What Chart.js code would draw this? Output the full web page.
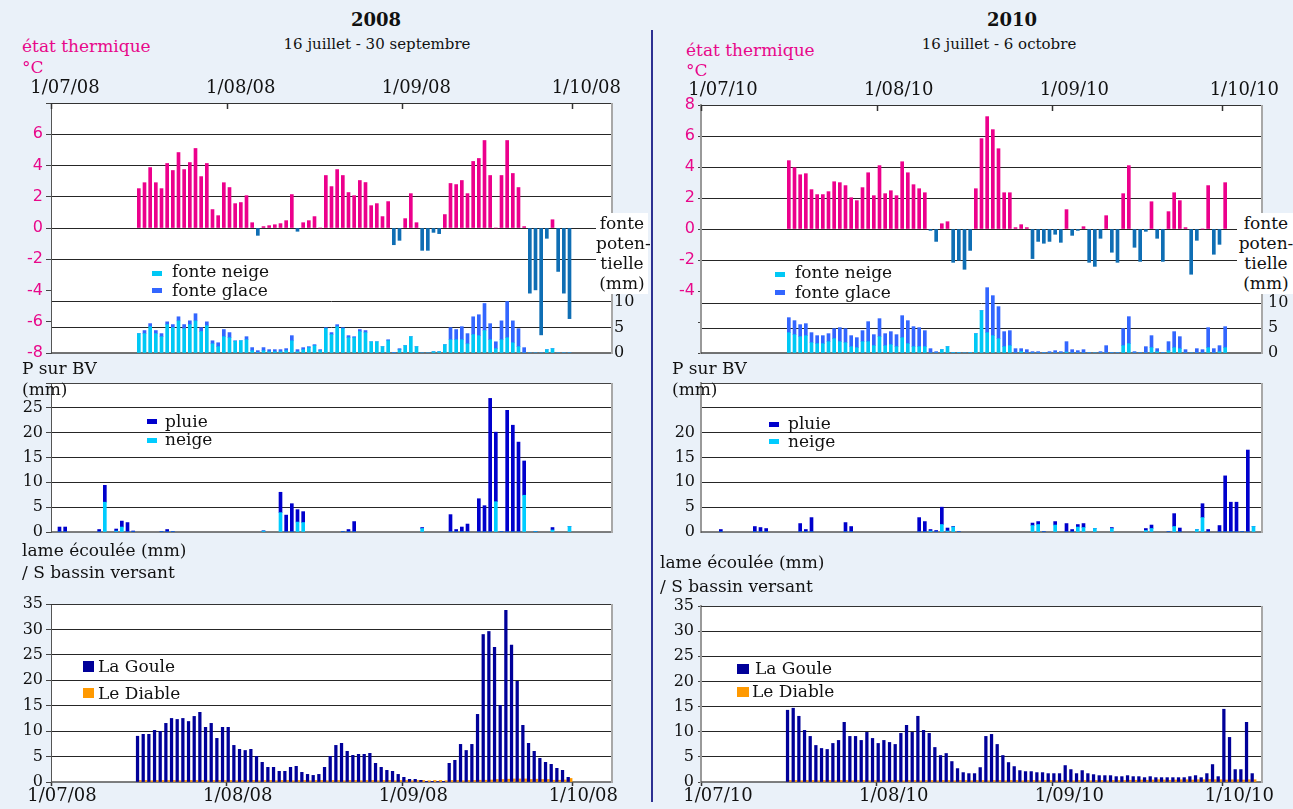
<!DOCTYPE html>
<html lang="fr"><head><meta charset="utf-8"><title>état thermique, précipitations et lame écoulée</title>
<script src="https://cdn.jsdelivr.net/npm/chart.js@4.4.1/dist/chart.umd.min.js"></script>
<style>
html,body{margin:0;padding:0}
body{width:1293px;height:809px;background:#EAF1F9;position:relative;overflow:hidden;font-family:'DejaVu Serif',serif;color:#111}
canvas{position:absolute}
.t{position:absolute;white-space:nowrap;line-height:1;transform:translateY(-50%);font-size:17px}
.tc{transform:translate(-50%,-50%)}
.pk{color:#E8088A}
.m{position:absolute}
.fbox{position:absolute;background:#fff;font-size:17px;line-height:20px;text-align:center;white-space:nowrap}
.div{position:absolute;left:651px;top:30px;width:2px;height:772px;background:#2E3192}
</style></head><body>
<canvas id="t08" width="652" height="316" style="left:0;top:60px"></canvas>
<canvas id="t10" width="641" height="316" style="left:652px;top:60px"></canvas>
<canvas id="p08" width="652" height="192" style="left:0;top:360px"></canvas>
<canvas id="p10" width="641" height="192" style="left:652px;top:360px"></canvas>
<canvas id="r08" width="652" height="224" style="left:0;top:585px"></canvas>
<canvas id="r10" width="641" height="224" style="left:652px;top:585px"></canvas>
<div class="div"></div>

<div class="t tc" style="left:376px;top:20px;font-weight:bold;font-size:18px">2008</div>
<div class="t tc" style="left:377px;top:44px;font-size:15px">16 juillet - 30 septembre</div>
<div class="t pk" style="left:22px;top:46px">état thermique</div>
<div class="t pk" style="left:22px;top:67px">°C</div>
<div class="t tc" style="left:1012px;top:20px;font-weight:bold;font-size:18px">2010</div>
<div class="t tc" style="left:999px;top:44px;font-size:15px">16 juillet - 6 octobre</div>
<div class="t pk" style="left:686px;top:50px">état thermique</div>
<div class="t pk" style="left:686px;top:70px">°C</div>

<div class="fbox" style="left:596px;top:213px;width:52px;height:81px">fonte<br>poten-<br>tielle<br>(mm)</div>
<div class="fbox" style="left:1237px;top:213px;width:58px;height:81px">fonte<br>poten-<br>tielle<br>(mm)</div>

<div class="t" style="left:22px;top:368px">P sur BV</div>
<div class="t" style="left:22px;top:389px">(mm)</div>
<div class="t" style="left:672px;top:368px">P sur BV</div>
<div class="t" style="left:672px;top:389px">(mm)</div>

<div class="t" style="left:22px;top:550px">lame écoulée (mm)</div>
<div class="t" style="left:22px;top:572px">/ S bassin versant</div>
<div class="t" style="left:660px;top:562px">lame écoulée (mm)</div>
<div class="t" style="left:660px;top:586px">/ S bassin versant</div>

<div id="legends"></div>

<script>
// ---- axis (days counted from 1 July) ----
const DAY_TICKS = [0, 31, 62, 92];
const AXIS_DAYS = 99;
const dateLabels2008 = ['1/07/08', '1/08/08', '1/09/08', '1/10/08'];
const dateLabels2010 = ['1/07/10', '1/08/10', '1/09/10', '1/10/10'];
const fonteTicks = [0, 5, 10];

// ---- 2008 (daily series from 16 July = day 15) ----
const start2008 = 15;
const temp2008 = [2.52,2.9,3.87,2.9,2.52,4.13,3.68,4.83,3.74,4.19,5.09,3.29,4.13,1.18,0.79,2.9,2.59,1.56,1.63,2.07,
  0.34,-0.47,0.09,0.15,0.21,0.28,0.47,2.14,-0.21,0.34,0.47,0.73,0,3.36,2.65,3.74,3.36,2.27,2.07,3.04,
  2.91,1.43,1.56,0.73,1.69,-1.07,-0.79,0.6,2.2,0.34,-1.43,-1.43,-0.28,-0.36,0.86,2.85,2.78,3.04,2.2,4.26,
  4.45,5.6,3.36,0,3.36,5.6,3.49,2.59,0.09,-4.17,-3.96,-6.84,-0.66,0.53,-2.78,-4.17,-5.8];
const fonteNeige2008 = [3.8,3.8,5.16,3.8,3.2,5.56,4.97,6.3,4.77,5.56,6.3,4.2,5.36,1.8,1.24,3.2,3.0,2.3,2.4,2.6,
  0.46,0.1,0.46,0.26,0.26,0.26,0.46,2.4,0.26,0.65,1.05,1.44,0.46,4.77,3.6,5.16,4.77,3.0,3.0,4.2,
  4.0,2.2,2.2,1.24,2.4,0,0.65,1.44,3.2,1.24,0,0,0.26,0.26,1.63,2.6,2.6,2.6,1.8,3.6,
  3.4,4.4,2.6,0.85,2.6,3.0,2.0,1.24,0,0,0,0,0.65,0.85,0,0,0];
const fonteGlace2008 = [0,0.6,0.6,0.6,0.6,0.55,0.6,0.8,0.8,0.75,1.4,0.77,0.75,0.6,0.77,1.4,1.0,0.1,0,0.6,
  0.6,0.36,0.6,0.4,0.4,0.4,0.4,1.0,0.4,0.4,0.2,0.2,0.2,0.2,0.4,0.4,0.2,0.4,0.2,0.4,
  0.4,0,0,0,0.2,0.13,0.2,0,0,0,0,0,0,0,0,2.37,2.0,2.56,2.0,3.5,
  4.1,5.3,3.15,1.35,3.7,7.1,4.3,3.53,1.05,0,0,0,0,0,0,0,0];
const precipDays2008 = [1,2,8,9,11,12,13,14,19,20,21,37,40,41,42,43,44,51,52,53,65,70,71,72,73,75,76,77,78,79,80,81,82,83,85,88,91];
const pluie2008 = [1.0,1.0,0.5,3.4,0.4,1.2,1.9,0.2,0.1,0.5,0.1,0.05,4.1,3.4,5.7,2.5,2.2,0.1,0.5,2.1,0.2,3.5,0.5,1.0,1.6,6.7,5.3,26.9,14.0,0.1,24.5,21.5,18.1,6.9,0,0.5,0];
const neige2008 = [0,0,0,6.0,0.2,1.0,0,0,0,0,0,0.2,3.9,0,0,2.0,1.9,0,0,0,0.7,0,0,0,0,0,0,0,6.1,0,0,0,0,7.4,0.1,0.4,1.1];
const laGoule2008 = [9.0,9.37,9.37,10.16,9.96,11.53,12.5,12.3,12.5,11.9,12.9,13.7,10.75,11.53,8.58,10.75,10.75,7.2,6.42,6.2,
  6.42,5.05,3.87,2.88,2.88,2.1,2.1,2.88,3.08,1.9,1.5,1.3,1.5,2.88,5.05,7.2,7.6,6.03,5.24,5.44,
  5.44,5.64,3.67,2.88,2.29,2.1,1.5,0.92,0.52,0.52,0.33,0.13,0.13,0.1,0.05,3.67,4.26,7.4,6.2,7.4,
  13.3,29.0,29.6,26.5,15.07,33.75,26.9,19.8,11.14,7.6,6.03,4.65,3.87,3.47,2.69,2.29,0.92];
const leDiable2008 = [0.3,0.3,0.25,0.3,0.3,0.3,0.3,0.25,0.3,0.3,0.3,0.3,0.25,0.3,0.3,0.3,0.3,0.25,0.3,0.3,
  0.3,0.25,0.3,0.3,0.25,0.3,0.3,0.25,0.3,0.3,0.25,0.3,0.3,0.25,0.3,0.3,0.25,0.3,0.3,0.25,
  0.3,0.3,0.25,0.3,0.3,0.25,0.3,0.3,0.25,0.3,0.3,0.25,0.3,0.3,0.25,0.3,0.3,0.25,0.3,0.3,
  0.35,0.35,0.4,0.5,0.5,0.55,0.6,0.6,0.6,0.5,0.55,0.5,0.5,0.35,0.35,0.4,0.7];

// ---- 2010 (daily series from 16 July = day 15) ----
const start2010 = 15;
const temp2010 = [4.41,3.96,3.5,3.57,2.54,2.22,2.22,2.41,3.05,2.99,2.8,2.02,1.83,2.67,3.63,2.15,4.09,2.28,2.47,2.15,
  4.34,3.63,2.86,2.6,2.34,-0.09,-0.8,0.34,0.47,-2.15,-2.02,-2.6,-1.38,2.6,5.83,7.25,6.41,5.18,2.34,2.34,
  0.09,0.28,0.09,-1.91,-0.8,-0.92,-0.8,-0.34,-0.86,1.25,-0.41,-0.09,0.15,-2.15,-2.41,-0.6,0.86,-1.5,-2.15,2.28,
  4.09,-1.18,-2.09,-0.15,1.76,-0.6,-2.09,1.12,2.34,1.83,0.09,-2.92,-0.73,0,2.8,-1.63,-0.99,2.99];
const fonteNeige2010 = [4.07,3.67,3.27,3.47,2.07,1.87,1.87,2.27,2.87,2.27,2.07,1.27,1.07,2.27,2.27,1.47,3.27,1.47,1.67,1.27,
  3.07,1.87,1.27,1.27,1.27,0,0,0.67,1.27,0.1,0.1,0,0.1,3.87,8.47,4.07,3.47,2.87,1.27,1.47,
  0,0.3,0,0,0,0,0,0,0,0.2,0,0,0,0,0,0,0,0,0,1.47,
  1.87,0,0,0,1.07,0.27,0,0.47,1.07,0.87,0,0,0,0,1.07,0,0.27,1.07];
const fonteGlace2010 = [3.0,2.8,2.4,2.4,2.0,1.6,1.6,1.6,2.0,2.8,2.8,2.2,2.0,2.2,4.0,2.2,3.6,2.4,2.6,2.4,
  4.4,4.6,4.0,3.8,3.2,0.87,0.27,0,0,0,0,0,0,0,0,9.0,8.0,6.4,3.0,3.0,
  0.87,0.57,0.67,0.27,0.27,0.1,0.27,0.47,0.27,2.07,0.67,0.47,0.67,0.1,0,0.27,1.47,0.1,0.1,3.4,
  5.4,0.27,0.1,1.27,2.4,0.6,0.1,1.8,3.2,2.4,0.67,0,0.87,0.67,4.0,0.87,1.2,4.2];
const precipDays2010 = [3,9,10,11,17,18,19,25,26,38,39,40,41,42,43,44,45,58,59,60,62,64,65,66,67,69,72,78,79,82,83,84,87,88,89,91,92,93,94,95,96,97];
const pluie2010 = [0.5,1.1,0.9,0.7,1.7,0.5,2.9,1.9,1.1,2.9,2.1,0.3,0.3,3.5,0.6,0.1,0.1,0.5,0.6,0.1,0.7,1.7,0.5,0.5,0.8,0,0.2,0.4,0.7,0.1,2.6,0.8,0,2.8,0.5,1.3,11.3,6.0,6.0,0.1,16.5,0];
const neige2010 = [0,0,0,0,0,0,0,0,0,0,0,0.2,0,1.5,0.2,1.0,0,1.3,1.5,0,1.4,0,0,1.0,0.9,0.7,0.7,0.3,0.7,0,1.1,0,0.5,2.9,0,0,0,0,0,0,0,1.1];
const laGoule2010 = [14.27,14.67,13.07,10.27,9.07,7.27,6.67,6.47,7.67,8.27,11.87,9.07,9.07,8.27,9.87,8.67,7.67,8.27,7.87,7.47,
  9.67,11.27,9.87,13.07,10.27,9.67,6.87,5.27,5.67,4.07,2.67,1.87,1.67,1.67,2.87,9.07,9.47,7.47,5.27,3.87,
  3.07,2.27,2.07,2.07,1.87,1.87,1.67,1.67,1.67,3.27,2.47,1.67,2.27,1.67,1.47,1.27,1.27,1.27,1.07,1.07,
  1.27,1.07,1.07,0.87,1.07,0.87,0.87,0.87,0.87,0.87,0.87,1.07,1.27,0.87,1.67,3.47,1.07,14.47,8.87,2.47,
  2.47,11.87,1.67];
const leDiable2010 = [0.3,0.3,0.25,0.3,0.3,0.25,0.3,0.3,0.25,0.3,0.3,0.25,0.3,0.3,0.25,0.3,0.3,0.25,0.3,0.3,
  0.25,0.3,0.3,0.25,0.3,0.3,0.25,0.3,0.3,0.25,0.3,0.3,0.25,0.3,0.3,0.25,0.3,0.3,0.25,0.3,
  0.3,0.25,0.3,0.3,0.25,0.3,0.3,0.25,0.3,0.3,0.25,0.3,0.3,0.25,0.3,0.3,0.25,0.3,0.3,0.3,
  0.35,0.35,0.4,0.35,0.4,0.45,0.4,0.35,0.4,0.45,0.45,0.4,0.45,0.45,0.5,0.45,0.45,0.4,0.45,0.45,
  0.4,0.45,0.45];

// ---- styles ----
const POS = '#EC008C', NEG = '#0F6EB4', F_NEIGE = '#00C8F5', F_GLACE = '#3366FF';
const PLUIE = '#0000CC', NEIGE = '#00CCFF', GOULE = '#000099', DIABLE = '#FF9900';
const GRID = '#262626', PINK_TXT = '#E8088A';

function seq(start, vals) { return vals.map((v, i) => ({ x: start + i + 0.5, y: v })); }
function sparse(days, vals) { return vals.map((v, i) => ({ x: days[i] + 0.5, y: v })); }

const frame = {
  id: 'frame',
  beforeDraw(ch) {
    const a = ch.chartArea, c = ch.ctx;
    c.save(); c.fillStyle = '#fff'; c.fillRect(a.left, a.top, a.right - a.left, a.bottom - a.top); c.restore();
  },
  beforeDatasetsDraw(ch, args, o) {
    const a = ch.chartArea, c = ch.ctx;
    c.save();
    c.strokeStyle = o.topColor || '#333'; c.lineWidth = 1.2;
    c.beginPath(); c.moveTo(a.left, a.top + 0.5); c.lineTo(a.right, a.top + 0.5); c.stroke();
    c.strokeStyle = o.bottomColor || '#555'; c.lineWidth = 1.6;
    c.beginPath(); c.moveTo(a.left, a.bottom); c.lineTo(a.right, a.bottom); c.stroke();
    c.strokeStyle = '#A8A8A8'; c.lineWidth = 2;
    c.beginPath(); c.moveTo(a.right, a.top); c.lineTo(a.right, a.bottom + 1); c.stroke();
    if (o.innerTicks) {
      const s = ch.scales.x; c.strokeStyle = '#333'; c.lineWidth = 1.5;
      s.ticks.forEach(t => { const px = Math.round(s.getPixelForValue(t.value)) + 0.5;
        c.beginPath(); c.moveTo(px, a.top); c.lineTo(px, a.top + 6); c.stroke(); });
    }
    c.restore();
  }
};

function xAxis(o) {
  return {
    type: 'linear', position: o.pos, min: 0, max: AXIS_DAYS, offset: false,
    afterBuildTicks: s => { s.ticks = DAY_TICKS.map(v => ({ value: v })); },
    afterFit: s => { s.height = o.height; },
    ticks: { display: o.show, autoSkip: false, maxRotation: 0, minRotation: 0, labelOffset: o.offset || 0,
      padding: o.pad || 0, color: '#111', font: { family: 'DejaVu Serif', size: 18 },
      callback: (v, i) => o.labels[i] },
    grid: { display: o.tick > 0, drawOnChartArea: false, drawTicks: o.tick > 0, tickLength: o.tick || 1,
      tickColor: '#333', color: '#333', tickWidth: 1.5, offset: false },
    border: { display: false }
  };
}

function yAxis(o) {
  const ax = {
    type: 'linear', position: o.pos || 'left', min: o.min, max: o.max, stacked: !!o.stacked,
    afterFit: s => { s.width = o.width; },
    ticks: { stepSize: o.step, color: o.color || '#111', font: o.font || { family: 'DejaVu Serif', size: 16 },
      padding: o.pad, autoSkip: false, callback: v => (o.hide || []).includes(v) ? '' : String(v) },
    grid: { color: c => (c.tick && o.gridOn(c.tick.value)) ? GRID : 'rgba(0,0,0,0)', lineWidth: 1,
      drawTicks: o.tl > 0, tickLength: o.tl || 1, tickColor: '#444' },
    border: { display: o.border !== false, color: o.borderColor || '#555', width: o.borderWidth || 1 }
  };
  if (o.ticks) ax.afterBuildTicks = s => { s.ticks = o.ticks.map(v => ({ value: v })); };
  return ax;
}

const base = { responsive: false, animation: false, devicePixelRatio: 1, events: [] };
const noPlug = { legend: { display: false }, tooltip: { enabled: false } };

function tempChart(id, start, temp, fn, fg, labels, lo, cfg) {
  new Chart(document.getElementById(id), {
    type: 'bar',
    data: { datasets: [
      { label: 'température', data: seq(start, temp), yAxisID: 'y', stack: 't', grouped: false, barThickness: 3,
        backgroundColor: c => (c.raw && c.raw.y < 0) ? NEG : POS },
      { label: 'fonte neige', data: seq(start, fn), yAxisID: 'y2', stack: 'f', grouped: false, barThickness: 3, backgroundColor: F_NEIGE },
      { label: 'fonte glace', data: seq(start, fg), yAxisID: 'y2', stack: 'f', grouped: false, barThickness: 3, backgroundColor: F_GLACE }
    ] },
    options: Object.assign({}, base, {
      layout: { padding: { bottom: 23 } },
      plugins: Object.assign({}, noPlug, { frame: { innerTicks: true, bottomColor: '#444' } }),
      scales: {
        x: xAxis({ pos: 'top', show: true, labels, offset: lo, height: cfg.top, pad: 4, tick: 0 }),
        y: yAxis({ min: -8, max: 8, step: 2, width: cfg.left, color: PINK_TXT, font: { family: 'DejaVu Sans', size: 16 },
          pad: 3, tl: cfg.tl, hide: cfg.hide, gridOn: v => v >= -2, borderColor: cfg.bc, borderWidth: cfg.bw }),
        y2: yAxis({ pos: 'right', min: 0, max: cfg.fmax, stacked: true, ticks: fonteTicks, width: cfg.right,
          pad: cfg.rpad, tl: 0, gridOn: v => v > 0, border: false })
      }
    }),
    plugins: [frame]
  });
}

function precipChart(id, days, pl, ne, cfg) {
  new Chart(document.getElementById(id), {
    type: 'bar',
    data: { datasets: [
      { label: 'neige', data: sparse(days, ne), stack: 'p', barThickness: 3, backgroundColor: NEIGE },
      { label: 'pluie', data: sparse(days, pl), stack: 'p', barThickness: 3, backgroundColor: PLUIE }
    ] },
    options: Object.assign({}, base, {
      layout: { padding: { top: 23, right: cfg.right } },
      plugins: Object.assign({}, noPlug, { frame: { topColor: '#444', bottomColor: '#555' } }),
      scales: {
        x: xAxis({ pos: 'bottom', show: false, labels: [], height: 20, tick: 4 }),
        y: yAxis({ min: 0, max: 30, step: 5, stacked: true, width: cfg.left, pad: cfg.pad, tl: cfg.tl, hide: cfg.hide,
          gridOn: v => v > 0, borderColor: cfg.bc, borderWidth: cfg.bw })
      }
    }),
    plugins: [frame]
  });
}

function runoffChart(id, start, goule, diable, labels, lo, cfg) {
  new Chart(document.getElementById(id), {
    type: 'bar',
    data: { datasets: [
      { label: 'La Goule', data: seq(start, goule), barThickness: 2.6, backgroundColor: GOULE },
      { label: 'Le Diable', data: seq(start, diable), barThickness: 2.6, backgroundColor: DIABLE }
    ] },
    options: Object.assign({}, base, {
      layout: { padding: { top: cfg.top, right: cfg.right } },
      plugins: Object.assign({}, noPlug, { frame: { topColor: '#333', bottomColor: '#555' } }),
      scales: {
        x: xAxis({ pos: 'bottom', show: true, labels, offset: lo, height: 27, tick: 4, pad: 0 }),
        y: yAxis({ min: 0, max: 35, step: 5, width: cfg.left, pad: cfg.pad, tl: cfg.tl,
          gridOn: v => v > 0, borderColor: cfg.bc, borderWidth: cfg.bw })
      }
    }),
    plugins: [frame]
  });
}

tempChart('t08', start2008, temp2008, fonteNeige2008, fonteGlace2008, dateLabels2008, 14,
  { top: 43, left: 51, right: 40, rpad: 2, tl: 5, hide: [8], fmax: 49, bc: '#555', bw: 1 });
tempChart('t10', start2010, temp2010, fonteNeige2010, fonteGlace2010, dateLabels2010, 22,
  { top: 45, left: 49, right: 31, rpad: 6, tl: 3, hide: [-6, -8], fmax: 49.6, bc: '#999', bw: 2 });

precipChart('p08', precipDays2008, pluie2008, neige2008, { left: 51, right: 40, pad: 3, tl: 5, hide: [30], bc: '#555', bw: 1 });
precipChart('p10', precipDays2010, pluie2010, neige2010, { left: 49, right: 31, pad: 6, tl: 0, hide: [25, 30], bc: '#999', bw: 2 });

runoffChart('r08', start2008, laGoule2008, leDiable2008, dateLabels2008, 11, { top: 19, left: 51, right: 40, pad: 3, tl: 5, bc: '#555', bw: 1 });
runoffChart('r10', start2010, laGoule2010, leDiable2010, dateLabels2010, 17, { top: 21, left: 49, right: 31, pad: 4, tl: 3, bc: '#999', bw: 2 });

// ---- legends (HTML) ----
const legendItems = [
  { text: 'fonte neige', color: F_NEIGE, tx: 172, ty: 271, mx: 152, my: 271, mw: 10, mh: 5 },
  { text: 'fonte glace', color: F_GLACE, tx: 172, ty: 290, mx: 152, my: 288, mw: 10, mh: 5 },
  { text: 'fonte neige', color: F_NEIGE, tx: 795, ty: 272, mx: 775, my: 272, mw: 10, mh: 5 },
  { text: 'fonte glace', color: F_GLACE, tx: 795, ty: 292, mx: 775, my: 290, mw: 10, mh: 5 },
  { text: 'pluie', color: PLUIE, tx: 165, ty: 421, mx: 147, my: 419, mw: 10, mh: 5 },
  { text: 'neige', color: NEIGE, tx: 165, ty: 439, mx: 147, my: 438, mw: 10, mh: 5 },
  { text: 'pluie', color: PLUIE, tx: 788, ty: 423, mx: 769, my: 422, mw: 10, mh: 5 },
  { text: 'neige', color: NEIGE, tx: 788, ty: 441, mx: 769, my: 439, mw: 10, mh: 5 },
  { text: 'La Goule', color: GOULE, tx: 98, ty: 666, mx: 83, my: 661, mw: 11, mh: 11 },
  { text: 'Le Diable', color: DIABLE, tx: 98, ty: 693, mx: 83, my: 688, mw: 11, mh: 10 },
  { text: 'La Goule', color: GOULE, tx: 755, ty: 668, mx: 737, my: 664, mw: 12, mh: 10 },
  { text: 'Le Diable', color: DIABLE, tx: 752, ty: 691, mx: 737, my: 687, mw: 12, mh: 10 }
];
const lg = document.getElementById('legends');
legendItems.forEach(it => {
  const m = document.createElement('div');
  m.className = 'm';
  m.style.cssText = `left:${it.mx}px;top:${it.my}px;width:${it.mw}px;height:${it.mh}px;background:${it.color}`;
  lg.appendChild(m);
  const t = document.createElement('div');
  t.className = 't';
  t.style.cssText = `left:${it.tx}px;top:${it.ty}px`;
  t.textContent = it.text;
  lg.appendChild(t);
});
</script>
</body></html>
